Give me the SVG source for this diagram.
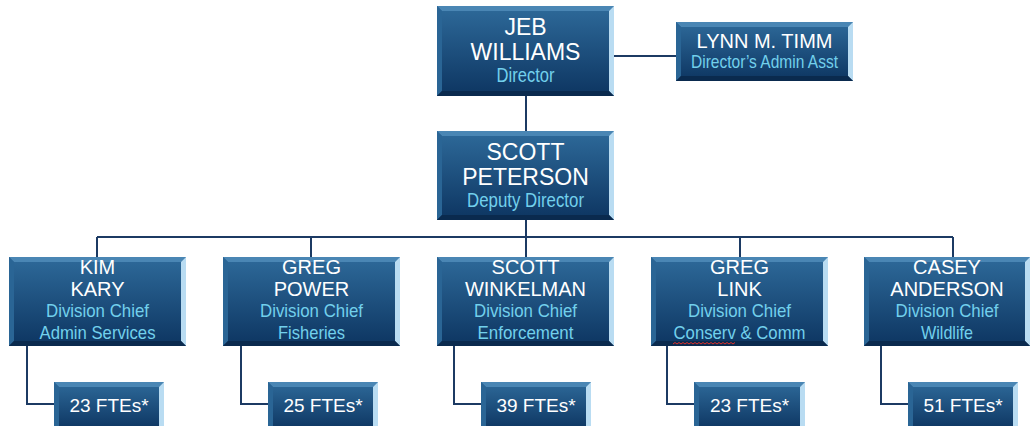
<svg xmlns="http://www.w3.org/2000/svg" width="1031" height="426" viewBox="0 0 1031 426">
<defs>
<linearGradient id="g" x1="0" y1="0" x2="0" y2="1">
<stop offset="0" stop-color="#2e6a9a"/>
<stop offset="1" stop-color="#0d3561"/>
</linearGradient>
<style>
.face{fill:url(#g)}
.bt{fill:#4a86b4}
.bl{fill:#2a6595}
.br{fill:#b9dcf2}
.bb{fill:#0a2a4e}
.ln{fill:none;stroke:#1c3a63;stroke-width:2}
.t{font-family:"Liberation Sans",Arial,sans-serif;fill:#ffffff;text-anchor:middle}
.s{font-family:"Liberation Sans Narrow","Liberation Sans",Arial,sans-serif;fill:#72d0ec;text-anchor:middle}
</style>
</defs>
<rect width="1031" height="426" fill="#ffffff"/>
<g id="connectors">
<path class="ln" d="M614 56H676"/>
<path class="ln" d="M526 96V131"/>
<path class="ln" d="M526 220V237"/>
<path class="ln" d="M97 237H953"/>
<path class="ln" d="M97 237V257M311 237V257M526 237V257M740 237V257M953 237V257"/>
<path class="ln" d="M27 346V404H54M241 346V404H268M454 346V404H481M667 346V404H694M881 346V404H908"/>
</g>
<g id="jeb">
<rect class="face" x="437" y="6" width="177" height="90"/>
<path class="bt" d="M437 6H614L609 11H442Z"/><path class="bl" d="M437 6L442 11V91L437 96Z"/><path class="br" d="M614 6V96L609 91V11Z"/><path class="bb" d="M437 96H614L609 91H442Z"/>
<text class="t" x="525.5" y="35" font-size="23">JEB</text>
<text class="t" x="525.5" y="60" font-size="23">WILLIAMS</text>
<text class="s" x="525.5" y="82" font-size="20" textLength="58" lengthAdjust="spacingAndGlyphs">Director</text>
</g>
<g id="lynn">
<rect class="face" x="676" y="22" width="177" height="59"/>
<path class="bt" d="M676 22H853L848 27H681Z"/><path class="bl" d="M676 22L681 27V76L676 81Z"/><path class="br" d="M853 22V81L848 76V27Z"/><path class="bb" d="M676 81H853L848 76H681Z"/>
<text class="t" x="764.5" y="48" font-size="20">LYNN M. TIMM</text>
<text class="s" x="764.5" y="68" font-size="19" textLength="147" lengthAdjust="spacingAndGlyphs">Director’s Admin Asst</text>
</g>
<g id="peterson">
<rect class="face" x="437" y="131" width="177" height="89"/>
<path class="bt" d="M437 131H614L609 136H442Z"/><path class="bl" d="M437 131L442 136V215L437 220Z"/><path class="br" d="M614 131V220L609 215V136Z"/><path class="bb" d="M437 220H614L609 215H442Z"/>
<text class="t" x="525.5" y="160" font-size="23">SCOTT</text>
<text class="t" x="525.5" y="185" font-size="23">PETERSON</text>
<text class="s" x="525.5" y="207" font-size="20" textLength="117" lengthAdjust="spacingAndGlyphs">Deputy Director</text>
</g>
<g id="kary">
<rect class="face" x="9" y="257" width="177" height="89"/>
<path class="bt" d="M9 257H186L181 262H14Z"/><path class="bl" d="M9 257L14 262V341L9 346Z"/><path class="br" d="M186 257V346L181 341V262Z"/><path class="bb" d="M9 346H186L181 341H14Z"/>
<text class="t" x="97.5" y="274" font-size="20">KIM</text>
<text class="t" x="97.5" y="296" font-size="20">KARY</text>
<text class="s" x="97.5" y="317" font-size="19" textLength="103" lengthAdjust="spacingAndGlyphs">Division Chief</text>
<text class="s" x="97.5" y="339" font-size="19" textLength="116" lengthAdjust="spacingAndGlyphs">Admin Services</text>
</g>
<g id="power">
<rect class="face" x="223" y="257" width="177" height="89"/>
<path class="bt" d="M223 257H400L395 262H228Z"/><path class="bl" d="M223 257L228 262V341L223 346Z"/><path class="br" d="M400 257V346L395 341V262Z"/><path class="bb" d="M223 346H400L395 341H228Z"/>
<text class="t" x="311.5" y="274" font-size="20">GREG</text>
<text class="t" x="311.5" y="296" font-size="20">POWER</text>
<text class="s" x="311.5" y="317" font-size="19" textLength="103" lengthAdjust="spacingAndGlyphs">Division Chief</text>
<text class="s" x="311.5" y="339" font-size="19" textLength="67" lengthAdjust="spacingAndGlyphs">Fisheries</text>
</g>
<g id="winkelman">
<rect class="face" x="437" y="257" width="177" height="89"/>
<path class="bt" d="M437 257H614L609 262H442Z"/><path class="bl" d="M437 257L442 262V341L437 346Z"/><path class="br" d="M614 257V346L609 341V262Z"/><path class="bb" d="M437 346H614L609 341H442Z"/>
<text class="t" x="525.5" y="274" font-size="20">SCOTT</text>
<text class="t" x="525.5" y="296" font-size="20">WINKELMAN</text>
<text class="s" x="525.5" y="317" font-size="19" textLength="103" lengthAdjust="spacingAndGlyphs">Division Chief</text>
<text class="s" x="525.5" y="339" font-size="19" textLength="96" lengthAdjust="spacingAndGlyphs">Enforcement</text>
</g>
<g id="link">
<rect class="face" x="651" y="257" width="177" height="89"/>
<path class="bt" d="M651 257H828L823 262H656Z"/><path class="bl" d="M651 257L656 262V341L651 346Z"/><path class="br" d="M828 257V346L823 341V262Z"/><path class="bb" d="M651 346H828L823 341H656Z"/>
<text class="t" x="739.5" y="274" font-size="20">GREG</text>
<text class="t" x="739.5" y="296" font-size="20">LINK</text>
<text class="s" x="739.5" y="317" font-size="19" textLength="103" lengthAdjust="spacingAndGlyphs">Division Chief</text>
<text class="s" x="739.5" y="339" font-size="19" textLength="132" lengthAdjust="spacingAndGlyphs">Conserv &amp; Comm</text>
<path d="M673 344l2 -1.5l2 1.5l2 -1.5l2 1.5l2 -1.5l2 1.5l2 -1.5l2 1.5l2 -1.5l2 1.5l2 -1.5l2 1.5l2 -1.5l2 1.5l2 -1.5l2 1.5l2 -1.5l2 1.5l2 -1.5l2 1.5l2 -1.5l2 1.5l2 -1.5l2 1.5l2 -1.5l2 1.5l2 -1.5l2 1.5l2 -1.5l2 1.5l2 -1.5" fill="none" stroke="#e0302a" stroke-width="1"/>
</g>
<g id="anderson">
<rect class="face" x="864" y="257" width="166" height="89"/>
<path class="bt" d="M864 257H1030L1025 262H869Z"/><path class="bl" d="M864 257L869 262V341L864 346Z"/><path class="br" d="M1030 257V346L1025 341V262Z"/><path class="bb" d="M864 346H1030L1025 341H869Z"/>
<text class="t" x="947" y="274" font-size="20">CASEY</text>
<text class="t" x="947" y="296" font-size="20">ANDERSON</text>
<text class="s" x="947" y="317" font-size="19" textLength="103" lengthAdjust="spacingAndGlyphs">Division Chief</text>
<text class="s" x="947" y="339" font-size="19" textLength="52" lengthAdjust="spacingAndGlyphs">Wildlife</text>
</g>
<g id="fte1">
<rect class="face" x="54" y="382" width="110" height="48"/>
<path class="bt" d="M54 382H164L159 387H59Z"/><path class="bl" d="M54 382L59 387V430H54Z"/><path class="br" d="M164 382V430H159V387Z"/>
<text class="t" x="109" y="412" font-size="19">23 FTEs*</text>
</g>
<g id="fte2">
<rect class="face" x="268" y="382" width="110" height="48"/>
<path class="bt" d="M268 382H378L373 387H273Z"/><path class="bl" d="M268 382L273 387V430H268Z"/><path class="br" d="M378 382V430H373V387Z"/>
<text class="t" x="323" y="412" font-size="19">25 FTEs*</text>
</g>
<g id="fte3">
<rect class="face" x="481" y="382" width="110" height="48"/>
<path class="bt" d="M481 382H591L586 387H486Z"/><path class="bl" d="M481 382L486 387V430H481Z"/><path class="br" d="M591 382V430H586V387Z"/>
<text class="t" x="536" y="412" font-size="19">39 FTEs*</text>
</g>
<g id="fte4">
<rect class="face" x="694" y="382" width="111" height="48"/>
<path class="bt" d="M694 382H805L800 387H699Z"/><path class="bl" d="M694 382L699 387V430H694Z"/><path class="br" d="M805 382V430H800V387Z"/>
<text class="t" x="749.5" y="412" font-size="19">23 FTEs*</text>
</g>
<g id="fte5">
<rect class="face" x="908" y="382" width="110" height="48"/>
<path class="bt" d="M908 382H1018L1013 387H913Z"/><path class="bl" d="M908 382L913 387V430H908Z"/><path class="br" d="M1018 382V430H1013V387Z"/>
<text class="t" x="963" y="412" font-size="19">51 FTEs*</text>
</g>
</svg>
